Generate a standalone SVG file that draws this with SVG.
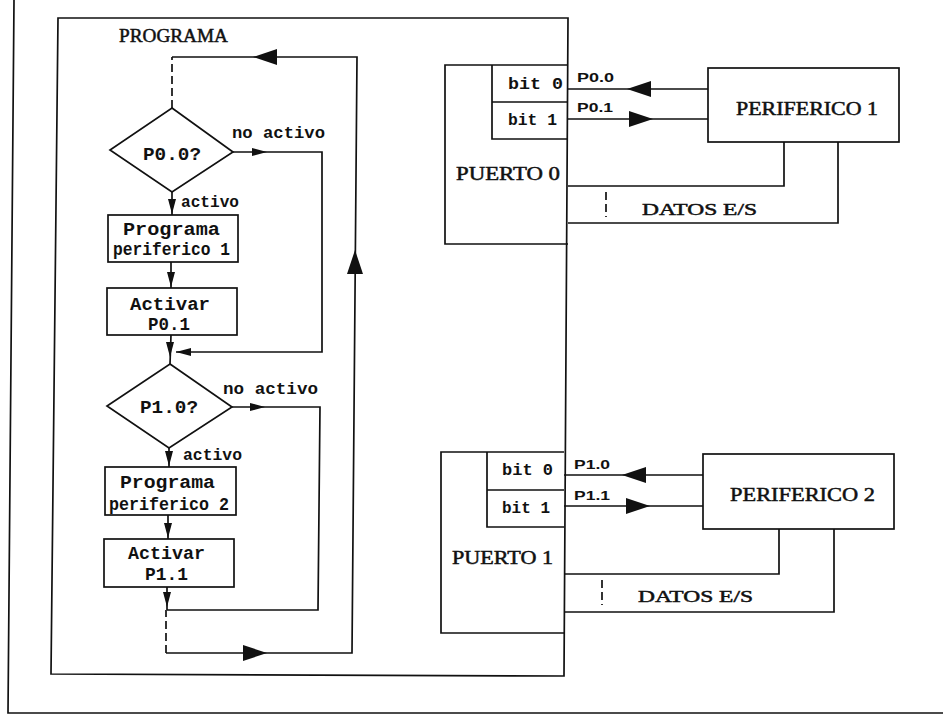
<svg xmlns="http://www.w3.org/2000/svg" xmlns:xlink="http://www.w3.org/1999/xlink" width="943" height="719" viewBox="0 0 943 719">
<style>
.ln{fill:none;stroke:#111;stroke-width:1.7;stroke-linejoin:miter}
.ds{fill:none;stroke:#111;stroke-width:1.7;stroke-dasharray:8,4}
.bx{fill:none;stroke:#111;stroke-width:1.7}
.ah{fill:#111;stroke:none}
.m{font-family:"Liberation Mono","DejaVu Sans Mono",monospace;font-weight:bold;fill:#111}
.s{font-family:"Liberation Serif","DejaVu Serif",serif;fill:#111;stroke:#111;stroke-width:0.5}
.sm{font-family:"Liberation Sans","DejaVu Sans",sans-serif;font-weight:bold;font-size:12px;fill:#111}
</style>
<defs>
<polygon id="big" class="ah" points="0,0 -24,-8 -24,8"/>
<polygon id="sml" class="ah" points="0,0 -15,-4 -15,4"/>
</defs>
<rect width="943" height="719" fill="#fff"/>
<g id="frame">
<path class="ln" d="M14,0 L8,713 L943,713"/>
</g>
<g id="programa">
<path class="bx" d="M58,18 L568,18 L564,676 L51,674 Z"/>
<text class="s" x="119" y="42" font-size="19" textLength="109" lengthAdjust="spacingAndGlyphs">PROGRAMA</text>
</g>
<g id="d1">
<polygon class="bx" points="172,108 233,152 172,192 110,150"/>
<text class="m" x="143" y="160" font-size="19" textLength="58" lengthAdjust="spacingAndGlyphs">P0.0?</text>
</g>
<g id="b1">
<rect class="bx" x="108" y="215" width="130" height="47"/>
<text class="m" x="123" y="235" font-size="18" textLength="97" lengthAdjust="spacingAndGlyphs">Programa</text>
<text class="m" x="113" y="255" font-size="18" textLength="117" lengthAdjust="spacingAndGlyphs">periferico 1</text>
</g>
<g id="b2">
<rect class="bx" x="107" y="288" width="130" height="47"/>
<text class="m" x="130" y="310" font-size="18" textLength="80" lengthAdjust="spacingAndGlyphs">Activar</text>
<text class="m" x="148" y="330" font-size="18" textLength="42" lengthAdjust="spacingAndGlyphs">P0.1</text>
</g>
<g id="d2">
<polygon class="bx" points="170,364 232,407 169,448 107,406"/>
<text class="m" x="140" y="413" font-size="19" textLength="58" lengthAdjust="spacingAndGlyphs">P1.0?</text>
</g>
<g id="b3">
<rect class="bx" x="105" y="467" width="131" height="48"/>
<text class="m" x="120" y="488" font-size="18" textLength="95" lengthAdjust="spacingAndGlyphs">Programa</text>
<text class="m" x="109" y="510" font-size="18" textLength="120" lengthAdjust="spacingAndGlyphs">periferico 2</text>
</g>
<g id="b4">
<rect class="bx" x="104" y="539" width="130" height="48"/>
<text class="m" x="128" y="559" font-size="18" textLength="77" lengthAdjust="spacingAndGlyphs">Activar</text>
<text class="m" x="145" y="580" font-size="18" textLength="43" lengthAdjust="spacingAndGlyphs">P1.1</text>
</g>
<g id="puerto0">
<path class="bx" d="M568,65 L445,65 L445,244 L568,244"/>
<path class="bx" d="M492,65 L492,139 L568,139 M492,102 L568,102"/>
<text class="m" x="508" y="89" font-size="17" textLength="55" lengthAdjust="spacingAndGlyphs">bit 0</text>
<text class="m" x="508" y="125" font-size="17" textLength="49" lengthAdjust="spacingAndGlyphs">bit 1</text>
<text class="s" x="456" y="180" font-size="19" textLength="104" lengthAdjust="spacingAndGlyphs">PUERTO 0</text>
</g>
<g id="periferico1">
<rect class="bx" x="708" y="68" width="191" height="74"/>
<text class="s" x="736" y="115" font-size="19" textLength="142" lengthAdjust="spacingAndGlyphs">PERIFERICO 1</text>
</g>
<g id="puerto1">
<path class="bx" d="M564,452 L441,452 L441,633 L564,633"/>
<path class="bx" d="M487,452 L487,527 L564,527 M487,490 L564,490"/>
<text class="m" x="502" y="475" font-size="17" textLength="51" lengthAdjust="spacingAndGlyphs">bit 0</text>
<text class="m" x="502" y="513" font-size="17" textLength="48" lengthAdjust="spacingAndGlyphs">bit 1</text>
<text class="s" x="452" y="564" font-size="19" textLength="101" lengthAdjust="spacingAndGlyphs">PUERTO 1</text>
</g>
<g id="periferico2">
<rect class="bx" x="703" y="454" width="191" height="75"/>
<text class="s" x="730" y="501" font-size="19" textLength="145" lengthAdjust="spacingAndGlyphs">PERIFERICO 2</text>
</g>
<g id="connectors">
<path class="ds" d="M172,108 L172,57"/>
<path class="ln" d="M172,57 L357,57 L352,653 L166,653"/>
<path class="ds" d="M166,653 L166,610"/>
<use xlink:href="#big" transform="translate(253,57) rotate(180)"/>
<use xlink:href="#big" transform="translate(355,250) rotate(-90)"/>
<use xlink:href="#big" transform="translate(267,653)"/>
<path class="ln" d="M233,152 L322,152 L322,352 L176,352"/>
<use xlink:href="#sml" transform="translate(267,152)"/>
<use xlink:href="#sml" transform="translate(176,352) rotate(180)"/>
<text class="m" x="232" y="138" font-size="17" textLength="93" lengthAdjust="spacingAndGlyphs">no activo</text>
<path class="ln" d="M172,192 L172,215"/>
<use xlink:href="#sml" transform="translate(172,214) rotate(90)"/>
<text class="m" x="181" y="207" font-size="17" textLength="58" lengthAdjust="spacingAndGlyphs">activo</text>
<path class="ln" d="M171,262 L171,288"/>
<use xlink:href="#sml" transform="translate(171,287) rotate(90)"/>
<path class="ln" d="M171,335 L170,364"/>
<use xlink:href="#sml" transform="translate(170,357) rotate(90)"/>
<path class="ln" d="M232,407 L320,407 L318,610 L167,610"/>
<use xlink:href="#sml" transform="translate(265,407)"/>
<text class="m" x="223" y="394" font-size="17" textLength="95" lengthAdjust="spacingAndGlyphs">no activo</text>
<path class="ln" d="M169,448 L169,467"/>
<use xlink:href="#sml" transform="translate(169,466) rotate(90)"/>
<text class="m" x="183" y="460" font-size="17" textLength="59" lengthAdjust="spacingAndGlyphs">activo</text>
<path class="ln" d="M168,515 L168,539"/>
<use xlink:href="#sml" transform="translate(168,538) rotate(90)"/>
<path class="ln" d="M167,587 L167,610"/>
<use xlink:href="#sml" transform="translate(167,607) rotate(90)"/>
<path class="ln" d="M568,89 L708,89 M568,119 L708,119"/>
<use xlink:href="#big" transform="translate(627,89) rotate(180)"/>
<use xlink:href="#big" transform="translate(653,119)"/>
<text class="sm" x="577" y="82" textLength="37" lengthAdjust="spacingAndGlyphs">P0.0</text>
<text class="sm" x="577" y="112" textLength="36" lengthAdjust="spacingAndGlyphs">P0.1</text>
<path class="ln" d="M784,142 L784,186 L568,186 M838,142 L838,223 L568,223"/>
<path class="ds" d="M606,192 L606,217" stroke-dasharray="4,3"/>
<text class="s" x="642" y="215" font-size="17" textLength="115" lengthAdjust="spacingAndGlyphs">DATOS E/S</text>
<path class="ln" d="M564,475 L703,475 M564,506 L703,506"/>
<use xlink:href="#big" transform="translate(622,475) rotate(180)"/>
<use xlink:href="#big" transform="translate(650,506)"/>
<text class="sm" x="574" y="469" textLength="36" lengthAdjust="spacingAndGlyphs">P1.0</text>
<text class="sm" x="574" y="500" textLength="36" lengthAdjust="spacingAndGlyphs">P1.1</text>
<path class="ln" d="M779,529 L779,574 L564,574 M834,529 L834,612 L564,612"/>
<path class="ds" d="M602,580 L602,605" stroke-dasharray="4,3"/>
<text class="s" x="638" y="602" font-size="17" textLength="115" lengthAdjust="spacingAndGlyphs">DATOS E/S</text>
</g>
</svg>
